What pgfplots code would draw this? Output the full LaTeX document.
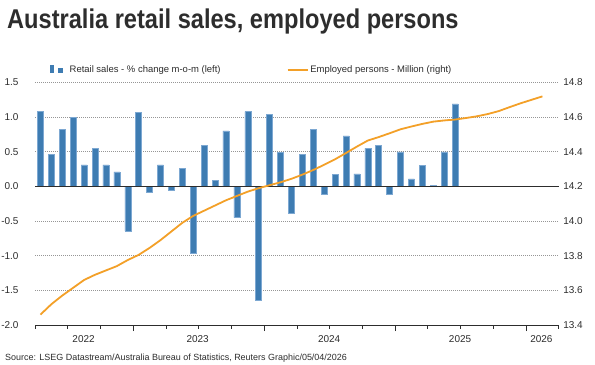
\documentclass[border=0pt]{standalone}
\usepackage{pgfplots}
\pgfplotsset{compat=1.18}
\usepackage{fontspec}
\setmainfont{Liberation Sans}
\usepackage{graphicx}
\definecolor{barblue}{RGB}{62,124,178}
\definecolor{baredge}{RGB}{125,168,210}
\definecolor{lineorange}{RGB}{243,160,40}
\definecolor{gridgray}{RGB}{150,150,150}
\definecolor{txt}{RGB}{45,45,45}
\begin{document}
\begin{tikzpicture}
\useasboundingbox[fill=white] (0,0) rectangle (595bp,365bp);
\node[anchor=base west, inner sep=0, text=txt] at (7bp,336bp) {\scalebox{1}[1.15]{\fontsize{23.7}{28}\selectfont\bfseries Australia retail sales, employed persons}};
\node[anchor=base west, inner sep=0, text=txt] at (5bp,5bp) {\fontsize{9}{11}\selectfont Source: LSEG Datastream/Australia Bureau of Statistics, Reuters Graphic/05/04/2026};
\begin{axis}[
 at={(35bp,40bp)}, anchor=south west,
 width=523.8bp, height=242.5bp, scale only axis,
 xmin=0.5, xmax=48.5, ymin=-2, ymax=1.5,
 axis x line*=bottom, axis y line*=left,
 x axis line style={-, draw=txt, line width=0.9bp},
 y axis line style={draw=none},
 ytick={-2,-1.5,-1,-0.5,0,0.5,1,1.5},
 yticklabels={-2.0,-1.5,-1.0,-0.5,0.0,0.5,1.0,1.5},
 ytick style={draw=none},
 ymajorgrids,
 grid style={gridgray, line width=0.6bp, dash pattern=on 0.8bp off 1.2bp},
 tick align=outside,
 xtick={9.5,21.5,33.5,45.5},
 xticklabels={},
 major tick length=6bp,
 minor xtick={0.5,3.5,6.5,12.5,15.5,18.5,24.5,27.5,30.5,36.5,39.5,42.5,48.5},
 minor tick length=3.5bp,
 x tick style={txt, line width=0.8bp},
 extra x ticks={4.95,15.4,27.45,39.45,46.9},
 extra x tick labels={2022,2023,2024,2025,2026},
 extra x tick style={tick style={draw=none}, xticklabel style={yshift=-1bp}},
 every tick label/.append style={font=\fontsize{10}{12}\selectfont, text=txt},
 yticklabel style={xshift=-7bp},
 legend style={at={(0.0286,1.052)}, anchor=west, draw=none, fill=none,
   font=\fontsize{9.5}{11}\selectfont, text=txt, inner sep=0pt,
   /tikz/every even column/.append style={column sep=64bp}},
 legend columns=2,
 legend cell align=left,
]
\addplot[ybar, bar width=6bp, fill=barblue, draw=baredge, line width=0.5bp,
  legend image code/.code={
    \fill[barblue, draw=none] (0bp,-3bp) rectangle (4bp,4.5bp);
    \fill[barblue, draw=none] (8.3bp,-3bp) rectangle (12.7bp,2bp);
    \path[draw=none, fill=none] (0bp,0bp) -- (17.5bp,0bp);}] coordinates {
(1,1.08) (2,0.46) (3,0.82) (4,1.00) (5,0.31) (6,0.55) (7,0.31) (8,0.21) (9,-0.64) (10,1.07)
(11,-0.09) (12,0.31) (13,-0.06) (14,0.26) (15,-0.97) (16,0.59) (17,0.09) (18,0.80) (19,-0.45) (20,1.08)
(21,-1.64) (22,1.04) (23,0.49) (24,-0.38) (25,0.46) (26,0.82) (27,-0.12) (28,0.17) (29,0.73) (30,0.18)
(31,0.55) (32,0.59) (33,-0.12) (34,0.50) (35,0.11) (36,0.30) (37,0.01) (38,0.50) (39,1.19)
};
\addlegendentry{Retail sales - \% change m-o-m (left)}
\addlegendimage{lineorange, line width=1.8bp,
  legend image code/.code={
    \draw[lineorange, line width=1.8bp] (0bp,0bp) -- (20bp,0bp);
    \path[draw=none, fill=none] (0bp,0bp) -- (20bp,0bp);}}
\addlegendentry{Employed persons - Million (right)}
\addplot[txt, line width=1.1bp, forget plot] coordinates {(0.5,0) (48.5,0)};
\end{axis}
\begin{axis}[
 at={(35bp,40bp)}, anchor=south west,
 width=523.8bp, height=242.5bp, scale only axis,
 xmin=0.5, xmax=48.5, ymin=13.4, ymax=14.8,
 axis x line=none, axis y line*=right,
 y axis line style={draw=none},
 ytick={13.4,13.6,13.8,14.0,14.2,14.4,14.6,14.8},
 yticklabels={13.4,13.6,13.8,14.0,14.2,14.4,14.6,14.8},
 ytick style={draw=none},
 major tick length=0pt,
 every tick label/.append style={font=\fontsize{10}{12}\selectfont, text=txt},
 yticklabel style={xshift=1bp},
]
\addplot[lineorange, line width=1.8bp] coordinates {
(1,13.46) (2,13.52) (3,13.57) (4,13.615) (5,13.66) (6,13.69) (7,13.715) (8,13.74) (9,13.775) (10,13.805)
(11,13.845) (12,13.89) (13,13.94) (14,13.99) (15,14.03) (16,14.06) (17,14.09) (18,14.12) (19,14.145) (20,14.17)
(21,14.19) (22,14.207) (23,14.224) (24,14.244) (25,14.268) (26,14.295) (27,14.325) (28,14.357) (29,14.393) (30,14.43)
(31,14.465) (32,14.485) (33,14.507) (34,14.53) (35,14.546) (36,14.561) (37,14.574) (38,14.581) (39,14.586) (40,14.595)
(41,14.605) (42,14.618) (43,14.635) (44,14.658) (45,14.68) (46,14.70) (47,14.72)
};
\end{axis}
\end{tikzpicture}
\end{document}
